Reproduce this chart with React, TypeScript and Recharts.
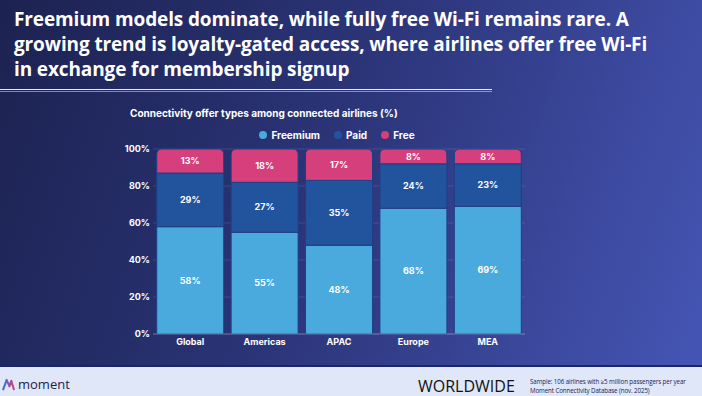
import { BarChart, Bar, XAxis, YAxis, CartesianGrid, LabelList } from 'recharts';

const regions = ['Global', 'Americas', 'APAC', 'Europe', 'MEA'];
const freemium = [58, 55, 48, 68, 69];
const paid = [29, 27, 35, 24, 23];
const free = [13, 18, 17, 8, 8];
const yTicks = [0, 20, 40, 60, 80, 100];

const series = [
  { key: 'freemium', name: 'Freemium', color: '#4aa9dd' },
  { key: 'paid', name: 'Paid', color: '#22549e' },
  { key: 'free', name: 'Free', color: '#d43f7c' },
];

const data = regions.map((region, i) => ({
  region,
  freemium: freemium[i],
  paid: paid[i],
  free: free[i],
}));

const chartFont = 'Inter, "Open Sans", sans-serif';

export default function App() {
  return (
    <div
      style={{
        position: 'fixed',
        top: 0,
        left: 0,
        width: 702,
        height: 396,
        overflow: 'hidden',
        background: 'linear-gradient(110deg, #1c2250 0%, #2b3477 45%, #4656b6 100%)',
        fontFamily: '"Open Sans", sans-serif',
      }}
    >
      <div
        style={{
          position: 'absolute',
          left: 14,
          top: 7,
          width: 686,
          color: '#ffffff',
          fontSize: 19,
          fontWeight: 700,
          lineHeight: '25px',
          letterSpacing: -0.12,
          whiteSpace: 'nowrap',
        }}
      >
        Freemium models dominate, while fully free Wi-Fi remains rare. A<br />
        growing trend is loyalty-gated access, where airlines offer free Wi-Fi<br />
        in exchange for membership signup
      </div>
      <div style={{ position: 'absolute', left: 0, top: 89, width: 492, height: 1, background: '#e8ecff' }} />
      <div style={{ position: 'absolute', left: 0, top: 91, width: 492, height: 1, background: 'rgba(232,236,255,0.5)' }} />

      <div
        style={{
          position: 'absolute',
          left: 130,
          top: 107,
          color: '#ffffff',
          fontFamily: chartFont,
          fontSize: 10,
          fontWeight: 700,
        }}
      >
        Connectivity offer types among connected airlines (%)
      </div>

      <div
        style={{
          position: 'absolute',
          left: 0,
          top: 129,
          width: 674,
          display: 'flex',
          justifyContent: 'center',
          gap: 14,
          fontFamily: chartFont,
          fontSize: 10,
          fontWeight: 700,
          color: '#ffffff',
        }}
      >
        {series.map((s) => (
          <div key={s.key} style={{ display: 'flex', alignItems: 'center', gap: 4 }}>
            <span style={{ width: 8, height: 8, borderRadius: 4, background: s.color, display: 'inline-block' }} />
            {s.name}
          </div>
        ))}
      </div>

      <div style={{ position: 'absolute', left: 0, top: 0 }}>
        <BarChart
          width={702}
          height={396}
          data={data}
          margin={{ top: 149, right: 177, left: 113, bottom: 32 }}
          barCategoryGap="5%"
        >
          <CartesianGrid vertical={false} stroke="rgba(255,255,255,0.12)" />
          <XAxis
            dataKey="region"
            height={30}
            axisLine={{ stroke: 'rgba(255,255,255,0.25)' }}
            tickLine={false}
            tickSize={0}
            tick={{ fill: '#ffffff', fontSize: 9, fontWeight: 700, fontFamily: chartFont }}
            tickMargin={5}
          />
          <YAxis
            width={40}
            domain={[0, 100]}
            ticks={yTicks}
            axisLine={false}
            tickLine={false}
            tickSize={0}
            tickFormatter={(v: number) => `${v}%`}
            tick={{ fill: '#ffffff', fontSize: 9, fontWeight: 700, fontFamily: chartFont }}
            tickMargin={3}
          />
          {series.map((s, idx) => (
            <Bar
              key={s.key}
              dataKey={s.key}
              name={s.name}
              stackId="a"
              fill={s.color}
              stroke="#1e3f86"
              strokeWidth={1}
              radius={idx === series.length - 1 ? [5, 5, 0, 0] : 0}
              isAnimationActive={false}
            >
              <LabelList
                dataKey={s.key}
                position="center"
                formatter={(v: number) => `${v}%`}
                fill="#ffffff"
                fontSize={9}
                fontWeight={700}
                fontFamily={chartFont}
              />
            </Bar>
          ))}
        </BarChart>
      </div>

      <div style={{ position: 'absolute', left: 0, top: 365, width: 702, height: 2, background: '#1b2668' }} />
      <div style={{ position: 'absolute', left: 0, top: 367, width: 702, height: 29, background: '#dfe7f8' }} />
      <svg style={{ position: 'absolute', left: 2, top: 378 }} width={13} height={13} viewBox="0 0 14 14">
        <defs>
          <linearGradient id="lg" x1="0" y1="0" x2="1" y2="0">
            <stop offset="0" stopColor="#3a6fd8" />
            <stop offset="1" stopColor="#d43f7c" />
          </linearGradient>
        </defs>
        <path d="M1 13 L5 2 L8 9 L10 3 L13 13" fill="none" stroke="url(#lg)" strokeWidth={2.2} strokeLinejoin="round" />
      </svg>
      <div
        style={{
          position: 'absolute',
          left: 18,
          top: 376,
          color: '#1b2350',
          fontSize: 13,
          fontWeight: 400,
          lineHeight: '16px',
        }}
      >
        moment
      </div>
      <div
        style={{
          position: 'absolute',
          left: 418,
          top: 375,
          color: '#111111',
          fontFamily: '"Open Sans", sans-serif',
          fontSize: 16,
          fontWeight: 400,
        }}
      >
        WORLDWIDE
      </div>
      <div
        style={{
          position: 'absolute',
          left: 530,
          top: 377,
          color: '#1b2350',
          fontSize: 6.2,
          lineHeight: '9px',
          letterSpacing: -0.1,
          whiteSpace: 'nowrap',
        }}
      >
        Sample: 106 airlines with ≥5 million passengers per year
        <br />
        Moment Connectivity Database (nov. 2025)
      </div>
    </div>
  );
}
